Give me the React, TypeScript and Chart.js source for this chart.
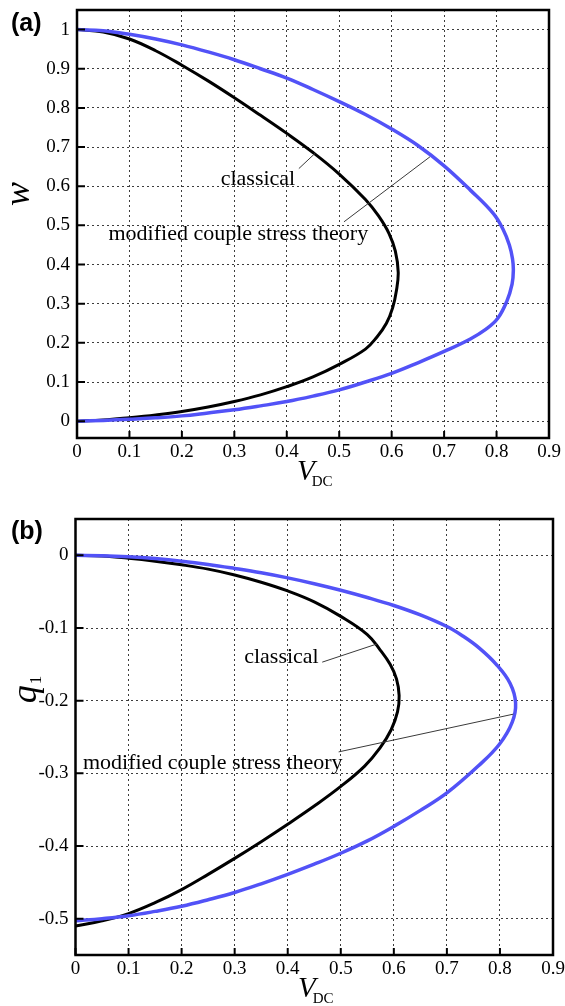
import { useEffect, useRef } from 'react';
import { Chart, registerables } from 'chart.js';

Chart.register(...registerables);

// Axis ticks
const vTicks = [0, 0.1, 0.2, 0.3, 0.4, 0.5, 0.6, 0.7, 0.8, 0.9];
const vTickLabels = ['0', '0.1', '0.2', '0.3', '0.4', '0.5', '0.6', '0.7', '0.8', '0.9'];
const wTicks = [0, 0.1, 0.2, 0.3, 0.4, 0.5, 0.6, 0.7, 0.8, 0.9, 1];
const wTickLabels = ['0', '0.1', '0.2', '0.3', '0.4', '0.5', '0.6', '0.7', '0.8', '0.9', '1'];
const qTicks = [-0.5, -0.4, -0.3, -0.2, -0.1, 0];
const qTickLabels = ['-0.5', '-0.4', '-0.3', '-0.2', '-0.1', '0'];

// (a) deflection w versus V_DC, traced along the equilibrium path (stable branch, then unstable branch)
const wClassicalV = [0, 0.05, 0.1, 0.15, 0.2, 0.25, 0.3, 0.35, 0.4, 0.45, 0.5, 0.55, 0.575, 0.595, 0.607, 0.6125, 0.609, 0.602, 0.59, 0.572, 0.55, 0.5, 0.45, 0.4, 0.35, 0.3, 0.25, 0.2, 0.15, 0.1, 0.05, 0];
const wClassical = [1, 0.994, 0.976, 0.946, 0.909, 0.869, 0.826, 0.781, 0.735, 0.686, 0.631, 0.566, 0.524, 0.479, 0.434, 0.38, 0.333, 0.29, 0.25, 0.215, 0.184, 0.145, 0.113, 0.088, 0.067, 0.05, 0.036, 0.0245, 0.016, 0.009, 0.003, 0];
const wModifiedV = [0, 0.05, 0.1, 0.15, 0.2, 0.25, 0.3, 0.35, 0.4, 0.45, 0.5, 0.55, 0.6, 0.65, 0.7, 0.75, 0.794, 0.8123, 0.8244, 0.8304, 0.832, 0.8296, 0.8195, 0.802, 0.78, 0.75, 0.7, 0.65, 0.6, 0.55, 0.5, 0.45, 0.4, 0.35, 0.3, 0.25, 0.2, 0.15, 0.1, 0.05, 0];
const wModified = [1, 0.997, 0.988, 0.976, 0.961, 0.943, 0.923, 0.9, 0.876, 0.847, 0.816, 0.783, 0.746, 0.704, 0.652, 0.59, 0.53, 0.49, 0.45, 0.415, 0.385, 0.35, 0.306, 0.262, 0.235, 0.21, 0.178, 0.149, 0.122, 0.1, 0.08, 0.064, 0.05, 0.039, 0.029, 0.021, 0.0135, 0.0085, 0.005, 0.002, 0];

// (b) generalized coordinate q1 versus V_DC
const qClassicalV = [0, 0.05, 0.1, 0.15, 0.2, 0.25, 0.3, 0.35, 0.4, 0.45, 0.5, 0.55, 0.574, 0.593, 0.605, 0.61, 0.607, 0.595, 0.574, 0.545, 0.5, 0.45, 0.4, 0.35, 0.3, 0.25, 0.2, 0.15, 0.1, 0.05, 0];
const qClassical = [0, -0.001, -0.004, -0.008, -0.013, -0.019, -0.027, -0.037, -0.049, -0.064, -0.084, -0.109, -0.13, -0.15, -0.17, -0.193, -0.215, -0.24, -0.265, -0.29, -0.318, -0.345, -0.37, -0.394, -0.417, -0.439, -0.46, -0.478, -0.493, -0.503, -0.51];
const qModifiedV = [0, 0.05, 0.1, 0.15, 0.2, 0.25, 0.3, 0.35, 0.4, 0.45, 0.5, 0.55, 0.6, 0.65, 0.7, 0.73, 0.76, 0.793, 0.819, 0.8295, 0.823, 0.799, 0.759, 0.7, 0.65, 0.6, 0.55, 0.5, 0.45, 0.4, 0.35, 0.3, 0.25, 0.2, 0.15, 0.1, 0.05, 0];
const qModified = [0, -0.0005, -0.002, -0.0045, -0.008, -0.0125, -0.018, -0.024, -0.031, -0.039, -0.048, -0.058, -0.069, -0.082, -0.098, -0.111, -0.127, -0.15, -0.176, -0.203, -0.23, -0.26, -0.29, -0.327, -0.351, -0.373, -0.393, -0.41, -0.425, -0.439, -0.452, -0.464, -0.474, -0.483, -0.49, -0.496, -0.5, -0.503];

const SERIF = "'Liberation Serif', 'Times New Roman', serif";
const SANS = "'Liberation Sans', Arial, sans-serif";
const BLUE = '#5252f7';

Chart.defaults.font.family = SERIF;

type Pt = [number, number];
type Callout = { text: string; at: Pt; from: Pt; to: Pt };

type PanelProps = {
  tag: string;
  width: number;
  height: number;
  area: { left: number; top: number; right: number; bottom: number };
  yMin: number;
  yMax: number;
  yTicks: number[];
  yTickLabels: string[];
  classicalV: number[];
  classical: number[];
  modifiedV: number[];
  modified: number[];
  yTitle: string;
  ySub: string;
  yTitlePos: Pt;
  xTitlePos: Pt;
  tagPos: Pt;
  callouts: Callout[];
};

const pairs = (xs: number[], ys: number[]) => xs.map((x, i) => ({ x, y: ys[i] }));

function Panel(p: PanelProps) {
  const ref = useRef<HTMLCanvasElement | null>(null);

  useEffect(() => {
    const canvas = ref.current;
    if (!canvas) return;

    const decorations = {
      id: 'decorations',
      afterDatasetsDraw(chart: any) {
        const { ctx } = chart;
        const xs = chart.scales.x;
        const ys = chart.scales.y;
        ctx.save();
        // leader lines and their labels
        ctx.strokeStyle = '#3a3a3a';
        ctx.lineWidth = 1;
        ctx.fillStyle = '#000';
        ctx.font = `22px ${SERIF}`;
        ctx.textAlign = 'left';
        ctx.textBaseline = 'alphabetic';
        for (const c of p.callouts) {
          ctx.beginPath();
          ctx.moveTo(xs.getPixelForValue(c.from[0]), ys.getPixelForValue(c.from[1]));
          ctx.lineTo(xs.getPixelForValue(c.to[0]), ys.getPixelForValue(c.to[1]));
          ctx.stroke();
          ctx.fillText(c.text, xs.getPixelForValue(c.at[0]), ys.getPixelForValue(c.at[1]));
        }
        ctx.restore();
      },
      afterDraw(chart: any) {
        const { ctx, chartArea: a } = chart;
        const xs = chart.scales.x;
        const ys = chart.scales.y;
        ctx.save();
        // inward tick marks
        ctx.strokeStyle = '#000';
        ctx.lineWidth = 2;
        ctx.beginPath();
        for (const v of vTicks) {
          const px = xs.getPixelForValue(v);
          ctx.moveTo(px, a.bottom);
          ctx.lineTo(px, a.bottom - 7);
        }
        for (const v of p.yTicks) {
          const py = ys.getPixelForValue(v);
          ctx.moveTo(a.left, py);
          ctx.lineTo(a.left + 8, py);
        }
        ctx.stroke();
        // frame
        ctx.lineWidth = 2.5;
        ctx.strokeRect(a.left, a.top, a.right - a.left, a.bottom - a.top);

        ctx.fillStyle = '#000';
        // y-axis title (rotated)
        ctx.save();
        ctx.translate(p.yTitlePos[0], p.yTitlePos[1]);
        ctx.rotate(-Math.PI / 2);
        ctx.font = `italic 36px ${SERIF}`;
        const mainW = ctx.measureText(p.yTitle).width;
        ctx.font = `17px ${SERIF}`;
        const subW = p.ySub ? ctx.measureText(p.ySub).width : 0;
        const startX = -(mainW + subW) / 2;
        ctx.textBaseline = 'middle';
        ctx.textAlign = 'left';
        ctx.font = `italic 36px ${SERIF}`;
        ctx.fillText(p.yTitle, startX, 0);
        if (p.ySub) {
          ctx.font = `17px ${SERIF}`;
          ctx.fillText(p.ySub, startX + mainW + 1, 10);
        }
        ctx.restore();

        // x-axis title V_DC
        ctx.textAlign = 'left';
        ctx.textBaseline = 'alphabetic';
        ctx.font = `italic 29px ${SERIF}`;
        ctx.fillText('V', p.xTitlePos[0], p.xTitlePos[1]);
        const vW = ctx.measureText('V').width;
        ctx.font = `15px ${SERIF}`;
        ctx.fillText('DC', p.xTitlePos[0] + vW - 3, p.xTitlePos[1] + 6);

        // panel tag
        ctx.font = `bold 25px ${SANS}`;
        ctx.fillText(p.tag, p.tagPos[0], p.tagPos[1]);
        ctx.restore();
      },
    };

    const tickFont = { family: SERIF, size: 19 };

    const chart = new Chart(canvas, {
      type: 'line',
      data: {
        datasets: [
          {
            label: 'modified couple stress theory',
            data: pairs(p.modifiedV, p.modified),
            borderColor: BLUE,
            borderWidth: 3.5,
            pointRadius: 0,
            tension: 0.4,
            cubicInterpolationMode: 'default',
            fill: false,
          },
          {
            label: 'classical',
            data: pairs(p.classicalV, p.classical),
            borderColor: '#000',
            borderWidth: 3,
            pointRadius: 0,
            tension: 0.4,
            cubicInterpolationMode: 'default',
            fill: false,
          },
        ],
      },
      options: {
        animation: false,
        responsive: false,
        maintainAspectRatio: false,
        font: { family: SERIF },
        elements: { line: { tension: 0.4, capBezierPoints: false } },
        layout: { padding: { left: 0, top: p.area.top, right: p.width - p.area.right, bottom: 0 } },
        plugins: { legend: { display: false }, tooltip: { enabled: false } },
        scales: {
          x: {
            type: 'linear',
            min: 0,
            max: 0.9,
            afterBuildTicks: (s: any) => {
              s.ticks = vTicks.map((value) => ({ value }));
            },
            afterFit: (s: any) => {
              s.height = p.height - p.area.bottom;
              s.paddingLeft = 0;
              s.paddingRight = 0;
            },
            ticks: {
              autoSkip: false,
              maxRotation: 0,
              padding: 3,
              color: '#000',
              font: tickFont,
              callback: (_v: any, i: number) => vTickLabels[i],
            },
            grid: { color: '#3c3c3c', lineWidth: 1, drawTicks: false },
            border: { display: false, dash: [2, 3] },
          },
          y: {
            type: 'linear',
            min: p.yMin,
            max: p.yMax,
            afterBuildTicks: (s: any) => {
              s.ticks = p.yTicks.map((value) => ({ value }));
            },
            afterFit: (s: any) => {
              s.width = p.area.left;
              s.paddingTop = 0;
              s.paddingBottom = 0;
            },
            ticks: {
              autoSkip: false,
              padding: 7,
              color: '#000',
              font: tickFont,
              callback: (_v: any, i: number) => p.yTickLabels[i],
            },
            grid: { color: '#3c3c3c', lineWidth: 1, drawTicks: false },
            border: { display: false, dash: [2, 3] },
          },
        },
      },
      plugins: [decorations],
    } as any);

    return () => chart.destroy();
  }, []);

  return <canvas ref={ref} width={p.width} height={p.height} style={{ display: 'block' }} />;
}

export default function App() {
  return (
    <div style={{ position: 'absolute', left: 0, top: 0, width: 565, height: 1006, background: '#fff' }}>
      <Panel
        tag="(a)"
        width={565}
        height={503}
        area={{ left: 77, top: 10, right: 549, bottom: 438 }}
        yMin={-0.043}
        yMax={1.05}
        yTicks={wTicks}
        yTickLabels={wTickLabels}
        classicalV={wClassicalV}
        classical={wClassical}
        modifiedV={wModifiedV}
        modified={wModified}
        yTitle="w"
        ySub=""
        yTitlePos={[20, 194]}
        xTitlePos={[297, 480]}
        tagPos={[11, 31]}
        callouts={[
          { text: 'classical', at: [0.274, 0.603], from: [0.423, 0.645], to: [0.454, 0.684] },
          { text: 'modified couple stress theory', at: [0.06, 0.4625], from: [0.509, 0.509], to: [0.673, 0.675] },
        ]}
      />
      <Panel
        tag="(b)"
        width={565}
        height={503}
        area={{ left: 75.5, top: 16, right: 553, bottom: 452 }}
        yMin={-0.55}
        yMax={0.05}
        yTicks={qTicks}
        yTickLabels={qTickLabels}
        classicalV={qClassicalV}
        classical={qClassical}
        modifiedV={qModifiedV}
        modified={qModified}
        yTitle="q"
        ySub="1"
        yTitlePos={[27, 187]}
        xTitlePos={[298, 494]}
        tagPos={[11, 36]}
        callouts={[
          { text: 'classical', at: [0.318, -0.148], from: [0.465, -0.147], to: [0.568, -0.122] },
          { text: 'modified couple stress theory', at: [0.014, -0.2934], from: [0.496, -0.2705], to: [0.825, -0.2186] },
        ]}
      />
    </div>
  );
}
